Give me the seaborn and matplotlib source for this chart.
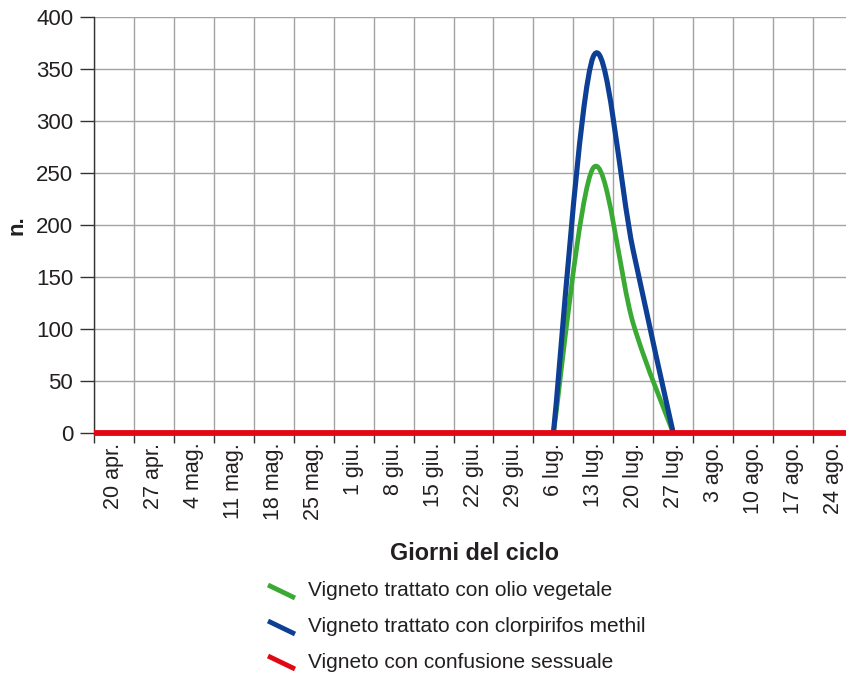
import numpy as np
import pandas as pd
import matplotlib
matplotlib.use("Agg")
import matplotlib.pyplot as plt
from matplotlib.path import Path
from matplotlib.patches import PathPatch
from matplotlib.lines import Line2D
import seaborn as sns

# ---------------- data ----------------
dates = ["20 apr.", "27 apr.", "4 mag.", "11 mag.", "18 mag.", "25 mag.", "1 giu.",
         "8 giu.", "15 giu.", "22 giu.", "29 giu.", "6 lug.", "13 lug.", "20 lug.",
         "27 lug.", "3 ago.", "10 ago.", "17 ago.", "24 ago."]
peak_dates = ["6 lug.", "13 lug.", "20 lug.", "27 lug."]
olio_vegetale = [0, 255, 105, 0]
clorpirifos = [0, 362, 175, 0]
confusione = [0, 0, 0, 0, 0, 0, 0, 0, 0, 0, 0, 0, 0, 0, 0, 0, 0, 0, 0]
y_ticks = [0, 50, 100, 150, 200, 250, 300, 350, 400]

series_names = ["Vigneto trattato con olio vegetale",
                "Vigneto trattato con clorpirifos methil",
                "Vigneto con confusione sessuale"]
colors = ["#3aaa35", "#0d3f94", "#e30613"]

# ---------------- style ----------------
sns.set_style("white")
FONT = ["Liberation Sans", "DejaVu Sans"]
plt.rcParams["font.family"] = FONT
TXT = "#231f20"
GRID = "#a3a3a3"

W, H = 846, 677
fig = plt.figure(figsize=(W / 100, H / 100), dpi=100)
ax = fig.add_axes([94 / W, (H - 433) / H, 759 / W, 416 / H])

pos = {d: i for i, d in enumerate(dates)}


def smooth_path(xs, ys):
    """Excel-like smoothed curve (Catmull-Rom -> cubic Bezier) through data points."""
    pts = np.column_stack([xs, ys]).astype(float)
    n = len(pts)
    verts = [tuple(pts[0])]
    codes = [Path.MOVETO]
    for i in range(n - 1):
        p0 = pts[i - 1] if i > 0 else pts[i]
        p1 = pts[i]
        p2 = pts[i + 1]
        p3 = pts[i + 2] if i + 2 < n else pts[i + 1]
        c1 = p1 + (p2 - p0) / 6.0
        c2 = p2 - (p3 - p1) / 6.0
        verts += [tuple(c1), tuple(c2), tuple(p2)]
        codes += [Path.CURVE4] * 3
    return Path(verts, codes)


px = [pos[d] for d in peak_dates]
for vals, col, lw, z in [(olio_vegetale, colors[0], 3.4, 3), (clorpirifos, colors[1], 3.7, 4)]:
    patch = PathPatch(smooth_path(px, vals), facecolor="none", edgecolor=col,
                      lw=lw, zorder=z, capstyle="butt", joinstyle="round")
    ax.add_patch(patch)

# red series spans the whole axis
red_df = pd.DataFrame({
    "x": [-0.5] + [pos[d] for d in dates] + [len(dates) - 0.5],
    "y": [confusione[0]] + confusione + [confusione[-1]],
})
sns.lineplot(data=red_df, x="x", y="y", color=colors[2], lw=4.2, ax=ax,
             zorder=5, solid_capstyle="butt", clip_on=False)

# ---------------- axes ----------------
ax.set_xlim(-0.5, len(dates) - 0.5)
ax.set_ylim(0, 400)
ax.set_yticks(y_ticks)
ax.set_yticklabels([str(v) for v in y_ticks])
ax.set_xticks(range(len(dates)))
ax.set_xticklabels(dates, rotation=90, va="top", ha="center")
ax.set_xticks(np.arange(-0.5, len(dates), 1.0), minor=True)

ax.tick_params(axis="x", which="major", length=0, pad=7, labelsize=15.5, colors=TXT)
ax.tick_params(axis="x", which="minor", length=7, width=1, color="#333333", direction="out", bottom=True)
ax.tick_params(axis="y", which="major", length=10, width=1, color="#333333", direction="out",
               pad=5, labelsize=16, labelcolor=TXT, left=True)

ax.grid(False)
ax.yaxis.grid(True, color=GRID, lw=1)
ax.xaxis.grid(True, which="minor", color=GRID, lw=1)
ax.set_axisbelow(True)

for s in ["top", "right"]:
    ax.spines[s].set_visible(False)
for s in ["left", "bottom"]:
    ax.spines[s].set_color("#333333")
    ax.spines[s].set_linewidth(1)

ax.set_xlabel("")
ax.set_ylabel("n.", fontsize=16, fontweight="bold", color=TXT, labelpad=6)

fig.text(474 / W, 1 - 553 / H, "Giorni del ciclo", ha="center", va="center",
         fontsize=16.8, fontweight="bold", color=TXT)

# ---------------- legend (manual) ----------------
leg_y = [591, 627, 662]
for name, col, yc in zip(series_names, colors, leg_y):
    fig.add_artist(Line2D([268 / W, 295 / W], [1 - (yc - 6) / H, 1 - (yc + 7) / H],
                          transform=fig.transFigure, color=col, lw=3.5, solid_capstyle="butt"))
    fig.text(308 / W, 1 - yc / H, name, ha="left", va="center", fontsize=15, color=TXT)

fig.savefig("out.png", dpi=100)
